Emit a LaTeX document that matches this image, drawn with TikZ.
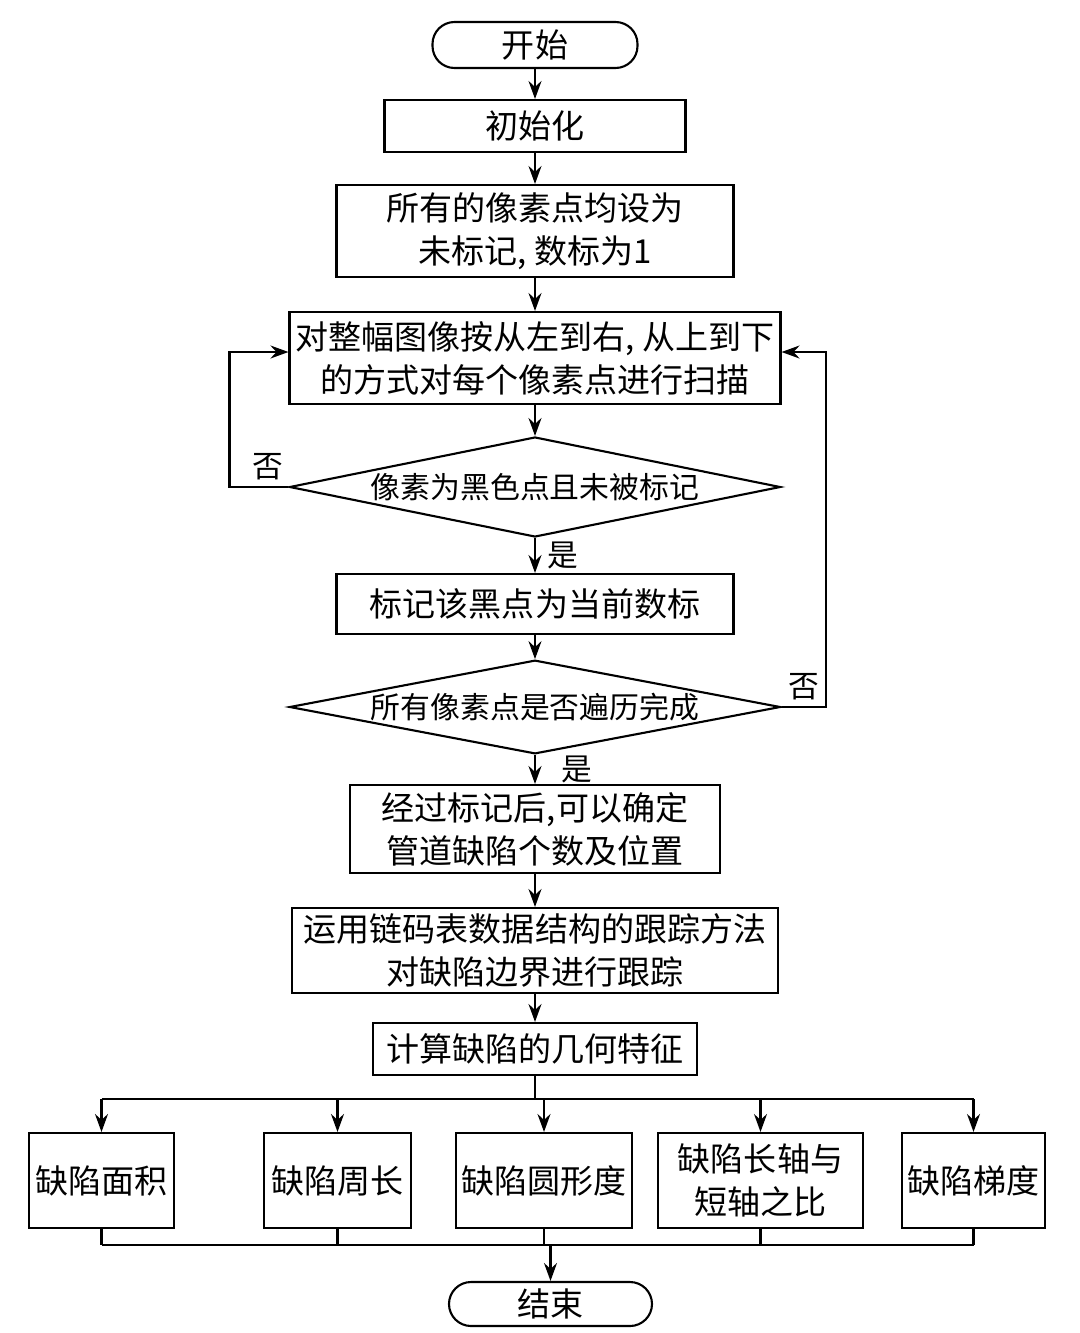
\documentclass[tikz,border=0pt]{standalone}
\usepackage{fontspec}
\setmainfont{Noto Sans CJK SC}
\usepackage{tikz}
\usetikzlibrary{positioning, arrows.meta, shapes.geometric}

\begin{document}
\begin{tikzpicture}[
        node distance=2cm,
        on grid,
        line width=1.2pt,
        >={Stealth[length=3.6mm, width=2.6mm, inset=1.2mm]},
        every node/.style={font=\fontsize{18.8}{24.5}\selectfont},
        box/.style={draw, rectangle, align=center, inner sep=0pt},
        term/.style={draw, rectangle, rounded corners=4.4mm, inner sep=0pt},
        cond/.style={draw, diamond, aspect=5, inner sep=0pt, minimum width=9.82cm,
          font=\fontsize{17}{20}\selectfont},
        yesno/.style={font=\fontsize{17.5}{20}\selectfont},
      ]

      \useasboundingbox (0,0) rectangle (21.6,-26.66);

      \node[term, minimum width=4.1cm, minimum height=0.92cm] (start) at (10.7,-0.9) {开始};

      \node[box, minimum width=6.02cm, minimum height=1.04cm, below=1.62cm of start] (init) {初始化};
      \node[box, minimum width=7.94cm, minimum height=1.84cm, below=2.1cm of init] (unmark)
        {所有的像素点均设为\\未标记, 数标为1};
      \node[box, minimum width=9.82cm, minimum height=1.84cm, below=2.54cm of unmark] (scan)
        {对整幅图像按从左到右, 从上到下\\的方式对每个像素点进行扫描};
      \node[cond, minimum height=2cm, below=2.58cm of scan] (black) {像素为黑色点且未被标记};
      \node[box, minimum width=7.94cm, minimum height=1.2cm, below=2.34cm of black] (mark) {标记该黑点为当前数标};
      \node[cond, minimum height=1.64cm, below=2.06cm of mark] (done) {所有像素点是否遍历完成};
      \node[box, minimum width=7.4cm, minimum height=1.76cm, below=2.44cm of done] (locate)
        {经过标记后,可以确定\\管道缺陷个数及位置};
      \node[box, minimum width=9.72cm, minimum height=1.7cm, below=2.43cm of locate] (trace)
        {运用链码表数据结构的跟踪方法\\对缺陷边界进行跟踪};
      \node[box, minimum width=6.48cm, minimum height=1.04cm, below=1.97cm of trace] (geom) {计算缺陷的几何特征};

      % feature row
      \node[box, minimum width=2.9cm, minimum height=1.9cm] (area) at (2.03,-23.61) {缺陷面积};
      \node[box, minimum width=2.94cm, minimum height=1.9cm] (perim) at (6.75,-23.61) {缺陷周长};
      \node[box, minimum width=3.52cm, minimum height=1.9cm] (circ) at (10.88,-23.61) {缺陷圆形度};
      \node[box, minimum width=4.1cm, minimum height=1.9cm] (ratio) at (15.21,-23.61) {缺陷长轴与\\短轴之比};
      \node[box, minimum width=2.86cm, minimum height=1.9cm] (grad) at (19.47,-23.61) {缺陷梯度};

      \node[term, minimum width=4.06cm, minimum height=0.88cm] (finish) at (11.01,-26.08) {结束};

      \coordinate (bustop) at (0,-21.98);
      \coordinate (busbot) at (0,-24.9);

      \path[->]
      (start) edge (init)
      (init) edge (unmark)
      (unmark) edge (scan)
      (scan) edge (black)
      (black) edge node [yesno, right, xshift=0.12cm] {是} (mark)
      (mark) edge (done)
      (done) edge node [yesno, right, xshift=0.4cm] {是} (locate)
      (locate) edge (trace)
      (trace) edge (geom);

      \draw[->] (black.west) -- node [yesno, above, xshift=0.18cm] {否} ++(-1.18,0)
        |- ([yshift=0.12cm]scan.west);
      \draw[->] (done.east) -- node [yesno, above] {否} ++(0.88,0)
        |- ([yshift=0.12cm]scan.east);

      \draw (geom) -- (geom.south |- bustop);
      \draw (area.north |- bustop) -- (grad.north |- bustop);
      \draw (area.south |- busbot) -- (grad.south |- busbot);
      \foreach \f in {area, perim, circ, ratio, grad} {
        \draw[->] (\f.north |- bustop) -- (\f);
        \draw (\f.south) -- (\f.south |- busbot);
      }
      \draw[->] (finish.north |- busbot) -- (finish);

    \end{tikzpicture}
\end{document}
